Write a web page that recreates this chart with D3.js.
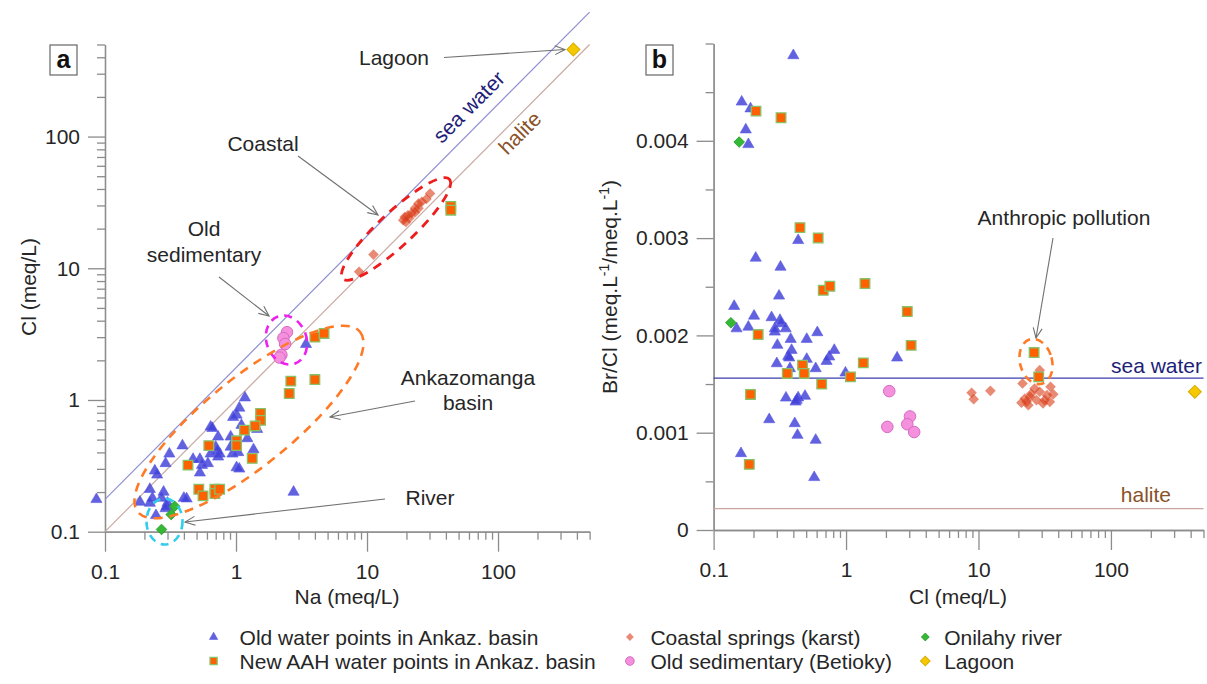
<!DOCTYPE html>
<html><head><meta charset="utf-8">
<script src="https://cdn.jsdelivr.net/npm/d3@7"></script>
<style>
body{margin:0;background:#fff;}
text{font-family:"Liberation Sans",Arial,sans-serif;}
</style>
</head><body>
<svg id="c" width="1207" height="684"></svg>
<script>
// ---------- DATA ----------
// Panel a: [Na, Cl] (meq/L)
const aOld = [[0.086,0.176],[1.17,1.04],[1.06,0.87],[1.01,0.77],[0.95,0.74],[0.64,0.625],[0.66,0.61],[1.10,0.644],
 [0.73,0.525],[0.91,0.525],[1.22,0.51],[1.36,0.42],[0.39,0.45],[0.31,0.39],[0.29,0.33],[0.24,0.29],[0.25,0.27],
 [0.47,0.355],[0.53,0.355],[0.55,0.32],[0.61,0.33],[0.53,0.28],[0.64,0.39],[0.70,0.44],[0.75,0.39],[0.72,0.41],
 [0.91,0.44],[0.94,0.39],[1.04,0.40],[1.01,0.307],[1.06,0.30],[0.73,0.37],[0.22,0.21],[0.28,0.20],[0.23,0.18],
 [0.185,0.168],[0.22,0.165],[0.27,0.18],[0.40,0.18],[0.42,0.178],[0.30,0.165],[0.295,0.156],[0.29,0.15],
 [0.245,0.133],[2.75,0.20],[3.42,2.65],[1.45,0.60]];
const aNew = [[1.54,0.79],[1.54,0.70],[1.40,0.635],[1.16,0.59],[1.01,0.49],[1.01,0.45],[0.62,0.45],[0.43,0.32],
 [1.33,0.36],[0.52,0.21],[0.56,0.187],[0.69,0.21],[0.69,0.195],[0.75,0.21],[2.62,1.39],[2.55,1.12],[4.0,1.43],
 [4.0,3.0],[4.7,3.2],[43.6,29.5],[43.6,27.6]];
const aCoastal = [[8.7,9.4],[11.2,12.7],[18.9,23.2],[19.4,24.5],[20.5,25.3],[21.9,26.2],[23.2,26.5],[23.2,28.5],
 [24.7,28.5],[24.7,31],[26.2,32],[28.4,33.6],[30.3,37],[19.8,22.5],[21,24]];
const aOldSed = [[2.45,3.27],[2.3,2.95],[2.37,2.66],[2.22,2.2],[2.15,2.1]];
const aRiver = [[0.34,0.156],[0.32,0.135],[0.27,0.104]];
const aLagoon = [[376,458]];
const seaWaterRatio = 1.76;   // Cl/Na of sea water line as drawn
const haliteRatio = 1.0;      // Cl/Na of halite line
const lineNaRange = [0.1, 500];

// Panel b: [Cl, Br/Cl]
const bOld = [[0.40,4.877],[0.163,4.40],[0.19,4.33],[0.175,4.114],[0.183,3.963],[0.435,2.977],[0.208,2.796],
 [0.32,2.703],[0.312,2.406],[0.143,2.30],[0.149,2.07],[0.183,2.087],[0.202,2.20],[0.274,2.184],[0.317,2.156],
 [0.323,2.122],[0.29,2.07],[0.29,2.036],[0.35,2.07],[0.303,1.90],[0.382,1.961],[0.505,1.961],[0.607,2.03],
 [0.388,1.848],[0.366,1.786],[0.372,1.77],[0.505,1.756],[0.815,1.848],[0.747,1.78],[0.713,1.735],[0.30,1.711],
 [0.377,1.66],[0.59,1.66],[0.99,1.615],[2.43,1.77],[0.352,1.358],[0.424,1.335],[0.435,1.36],[0.49,1.376],
 [0.416,1.317],[0.263,1.136],[0.41,1.095],[0.43,0.975],[0.59,0.924],[0.161,0.787],[0.575,0.541]]
 .map(d=>[d[0],d[1]/1000]);
const bNew = [[0.209,4.305],[0.323,4.237],[0.449,3.108],[0.616,3.001],[0.673,2.464],[0.755,2.505],[1.39,2.533],
 [0.217,2.009],[0.47,1.694],[0.36,1.609],[0.483,1.609],[0.655,1.499],[1.08,1.574],[1.35,1.718],[0.19,1.393],
 [0.186,0.674],[2.9,2.245],[3.1,1.898],[26.3,1.824],[28.5,1.574]].map(d=>[d[0],d[1]/1000]);
const bCoastal = [[8.87,1.41],[9.2,1.345],[12.3,1.43],[21.5,1.506],[29,1.643],[22.4,1.352],[23.1,1.317],
 [24.5,1.369],[26.5,1.455],[29,1.42],[27.4,1.335],[31.6,1.335],[32.9,1.386],[35,1.471],[36.7,1.396],[30.7,1.30],
 [21.1,1.307],[23.8,1.283],[34.6,1.317],[25,1.40]].map(d=>[d[0],d[1]/1000]);
const bOldSed = [[2.12,1.427],[2.05,1.06],[3.04,1.167],[2.9,1.087],[3.27,1.007]].map(d=>[d[0],d[1]/1000]);
const bRiver = [[0.156,3.987],[0.135,2.13]].map(d=>[d[0],d[1]/1000]);
const bLagoon = [[430,1.42]].map(d=>[d[0],d[1]/1000]);
const seaWaterBrCl = 0.00156;
const haliteBrCl = 0.00022;

const logTickLabels = ["0.1","1","10","100"];
const logMajor = [0.1,1,10,100];
const bYTickLabels = ["0","0.001","0.002","0.003","0.004"];
const bYMajor = [0,0.001,0.002,0.003,0.004];
const bYMinor = [0.0005,0.0015,0.0025,0.0035,0.0045,0.005];

const legendItems = [
 {label:"Old water points in Ankaz. basin", type:"tri"},
 {label:"New AAH water points in Ankaz. basin", type:"sq"},
 {label:"Coastal springs (karst)", type:"coast"},
 {label:"Old sedimentary (Betioky)", type:"sed"},
 {label:"Onilahy river", type:"river"},
 {label:"Lagoon", type:"lagoon"}];

// ---------- SETUP ----------
const svg = d3.select("#c");
const FS = 21, AX = "#8c8c8c", TXT = "#262626", ANN = "#707070";

const xA = d3.scaleLog().domain([0.1,500]).range([105,589.6]);
const yA = d3.scaleLog().domain([0.1,500]).range([531.7,44.5]);
const xB = d3.scaleLog().domain([0.1,500]).range([713.6,1203.5]);
const yB = d3.scaleLinear().domain([0,0.005]).range([530,43.5]);

function logMinor(lo, hi){
  const out=[];
  for(let dec=lo; dec<hi; dec*=10){ for(let m=2;m<=9;m++){ const v=+(dec*m).toPrecision(3); if(v<=hi) out.push(v);} }
  return out;
}
const minorLog = logMinor(0.1,500);

const styles = {
  tri:   {sym:d3.symbolTriangle, size:54, fill:"#4040d8", fo:0.82, stroke:"#5858e6", sw:0.6, rot:0},
  sq:    {sym:d3.symbolSquare, size:92, fill:"#ff6000", fo:1, stroke:"#86c26a", sw:1.3, rot:0},
  coast: {sym:d3.symbolSquare, size:56, fill:"#d83c18", fo:0.6, stroke:"none", sw:0, rot:45},
  sed:   {sym:d3.symbolCircle, size:105, fill:"#f590dc", fo:1, stroke:"#d66ac4", sw:1, rot:0},
  river: {sym:d3.symbolSquare, size:56, fill:"#35b835", fo:1, stroke:"#229922", sw:0.8, rot:45},
  lagoon:{sym:d3.symbolSquare, size:84, fill:"#f5c800", fo:1, stroke:"#d9ac00", sw:1, rot:45}
};

function drawPoints(g, data, xs, ys, type, scale=1){
  const s = styles[type];
  g.append("g").selectAll("path").data(data).join("path")
    .attr("d", d3.symbol(s.sym, s.size*scale))
    .attr("transform", d=>`translate(${xs(d[0])},${ys(d[1])}) rotate(${s.rot})`)
    .attr("fill", s.fill).attr("fill-opacity", s.fo)
    .attr("stroke", s.stroke).attr("stroke-width", s.sw);
}

function styleAxis(g){
  g.selectAll(".domain").attr("stroke", AX).attr("stroke-width",1.3);
  g.selectAll(".tick line").attr("stroke", AX).attr("stroke-width",1.3);
  g.selectAll(".tick text").attr("fill", TXT).style("font-size", FS+"px")
   .style("font-family","'Liberation Sans',Arial,sans-serif");
}

function logXAxis(xs, y0){
  const gMin = svg.append("g").attr("transform",`translate(0,${y0})`)
    .call(d3.axisBottom(xs).tickValues(minorLog).tickSize(8).tickSizeOuter(0).tickFormat(""));
  styleAxis(gMin);
  const gMaj = svg.append("g").attr("transform",`translate(0,${y0})`)
    .call(d3.axisBottom(xs).tickValues(logMajor).tickSize(20).tickSizeOuter(0).tickPadding(12)
      .tickFormat((d,i)=>logTickLabels[i]));
  styleAxis(gMaj);
}

function arrow(x1,y1,x2,y2){
  const g = svg.append("g").attr("stroke",ANN).attr("stroke-width",1.1).attr("fill","none");
  g.append("line").attr("x1",x1).attr("y1",y1).attr("x2",x2).attr("y2",y2);
  const a = Math.atan2(y2-y1,x2-x1), L=11, w=0.42;
  g.append("path").attr("d",`M${x2-L*Math.cos(a-w)},${y2-L*Math.sin(a-w)} L${x2},${y2} L${x2-L*Math.cos(a+w)},${y2-L*Math.sin(a+w)}`);
}

function label(x,y,t,opts={}){
  return svg.append("text").attr("x",x).attr("y",y).text(t)
    .attr("text-anchor",opts.anchor||"middle").attr("fill",opts.fill||TXT)
    .style("font-size",(opts.size||FS)+"px").style("font-weight",opts.weight||"normal");
}

function dashedEllipse(cx,cy,rx,ry,rot,color,dash,w){
  svg.append("ellipse").attr("cx",0).attr("cy",0).attr("rx",rx).attr("ry",ry)
    .attr("transform",`translate(${cx},${cy}) rotate(${rot})`)
    .attr("fill","none").attr("stroke",color).attr("stroke-width",w).attr("stroke-dasharray",dash);
}

// ---------- PANEL A ----------
logXAxis(xA, 531.7);
{
  const gMin = svg.append("g").attr("transform","translate(105,0)")
    .call(d3.axisLeft(yA).tickValues(minorLog).tickSize(8).tickSizeOuter(0).tickFormat(""));
  styleAxis(gMin);
  const gMaj = svg.append("g").attr("transform","translate(105,0)")
    .call(d3.axisLeft(yA).tickValues(logMajor).tickSize(17).tickSizeOuter(0).tickPadding(8)
      .tickFormat((d,i)=>logTickLabels[i]));
  styleAxis(gMaj);
}
// reference lines
const lineA = d3.line().x(d=>xA(d[0])).y(d=>yA(d[1]));
svg.append("path").attr("d", lineA(lineNaRange.map(n=>[n,n*seaWaterRatio])))
  .attr("stroke","#8f8fd2").attr("stroke-width",1.2).attr("fill","none");
svg.append("path").attr("d", lineA(lineNaRange.map(n=>[n,n*haliteRatio])))
  .attr("stroke","#c9aaa3").attr("stroke-width",1.2).attr("fill","none");

drawPoints(svg, aCoastal, xA, yA, "coast");
drawPoints(svg, aOldSed, xA, yA, "sed");
drawPoints(svg, aOld, xA, yA, "tri");
drawPoints(svg, aNew, xA, yA, "sq");
drawPoints(svg, aRiver, xA, yA, "river");
drawPoints(svg, aLagoon, xA, yA, "lagoon");

dashedEllipse(396,229,73,17,-43,"#ee1c1c","9,7",2.8);
dashedEllipse(286.5,340,20,25,-20,"#ee22ee","8,6",2.6);
dashedEllipse(249,422,143,44,-39,"#ff7a26","9,7",2.6);
dashedEllipse(164.5,521.5,18,23,0,"#33ccee","8,6",2.6);

// annotations panel a
label(394,65,"Lagoon");
arrow(444,57.5,565,49.5);
svg.append("text").attr("transform","translate(474,112) rotate(-45)").attr("text-anchor","middle")
  .attr("fill","#1e1e78").style("font-size",FS+"px").text("sea water");
svg.append("text").attr("transform","translate(525,138) rotate(-45)").attr("text-anchor","middle")
  .attr("fill","#8a5228").style("font-size",FS+"px").text("halite");
label(263,151,"Coastal");
arrow(298,156,378,215);
label(204,236,"Old");
label(204,262,"sedimentary");
arrow(219,277,269,316);
label(468,385,"Ankazomanga");
label(468,410,"basin");
arrow(415,401,330,417);
label(430,505,"River");
arrow(385,499,185,522);

// axis titles a
svg.append("text").attr("transform","translate(36,287) rotate(-90)").attr("text-anchor","middle")
  .attr("fill",TXT).style("font-size",FS+"px").text("Cl (meq/L)");
label(347,604,"Na (meq/L)");

// panel label a
svg.append("rect").attr("x",50).attr("y",45).attr("width",27).attr("height",30)
  .attr("fill","#fff").attr("stroke","#666").attr("stroke-width",1.2);
label(63.5,68,"a",{size:25,weight:"bold",fill:"#111"});

// ---------- PANEL B ----------
logXAxis(xB, 530);
{
  const gMin = svg.append("g").attr("transform","translate(713.6,0)")
    .call(d3.axisLeft(yB).tickValues(bYMinor).tickSize(8).tickSizeOuter(0).tickFormat(""));
  styleAxis(gMin);
  const gMaj = svg.append("g").attr("transform","translate(713.6,0)")
    .call(d3.axisLeft(yB).tickValues(bYMajor).tickSize(17).tickSizeOuter(0).tickPadding(8)
      .tickFormat((d,i)=>bYTickLabels[i]));
  styleAxis(gMaj);
}
svg.append("line").attr("x1",xB(0.1)).attr("x2",xB(500)).attr("y1",yB(seaWaterBrCl)).attr("y2",yB(seaWaterBrCl))
  .attr("stroke","#3c3cae").attr("stroke-width",1.2);
svg.append("line").attr("x1",xB(0.1)).attr("x2",xB(500)).attr("y1",yB(haliteBrCl)).attr("y2",yB(haliteBrCl))
  .attr("stroke","#caa6a0").attr("stroke-width",1.2);

drawPoints(svg, bCoastal, xB, yB, "coast");
drawPoints(svg, bOldSed, xB, yB, "sed");
drawPoints(svg, bOld, xB, yB, "tri");
drawPoints(svg, bNew, xB, yB, "sq");
drawPoints(svg, bRiver, xB, yB, "river");
drawPoints(svg, bLagoon, xB, yB, "lagoon");

dashedEllipse(1036,361.5,16,23,-15,"#ff7a26","8,6",2.6);
label(1064,225,"Anthropic pollution");
arrow(1053,238,1036,338);
label(1202,373,"sea water",{anchor:"end",fill:"#1e1e78"});
label(1171,502,"halite",{anchor:"end",fill:"#8a5228"});

// axis titles b
{
  const t = svg.append("text").attr("transform","translate(617,287) rotate(-90)").attr("text-anchor","middle")
    .attr("fill",TXT).style("font-size",FS+"px");
  t.append("tspan").text("Br/Cl (meq.L");
  t.append("tspan").text("-1").attr("dy",-8).style("font-size","14px");
  t.append("tspan").text("/meq.L").attr("dy",8);
  t.append("tspan").text("-1").attr("dy",-8).style("font-size","14px");
  t.append("tspan").text(")").attr("dy",8);
}
label(958,604,"Cl (meq/L)");
svg.append("rect").attr("x",646).attr("y",45).attr("width",27).attr("height",30)
  .attr("fill","#fff").attr("stroke","#666").attr("stroke-width",1.2);
label(659.5,68,"b",{size:25,weight:"bold",fill:"#111"});

// ---------- LEGEND ----------
const legX = [[213.6,239.6],[629.9,650.4],[925.3,944.2]];
const legY = [637,661];
legendItems.forEach((it,i)=>{
  const col = Math.floor(i/2), row = i%2;
  const s = styles[it.type];
  svg.append("path").attr("d", d3.symbol(s.sym, s.size*0.55))
    .attr("transform",`translate(${legX[col][0]},${legY[row]}) rotate(${s.rot})`)
    .attr("fill", s.fill).attr("fill-opacity", it.type==="coast"?0.6:s.fo)
    .attr("stroke", s.stroke).attr("stroke-width", s.sw);
  label(legX[col][1], legY[row]+7.5, it.label, {anchor:"start"});
});
</script>
</body></html>
